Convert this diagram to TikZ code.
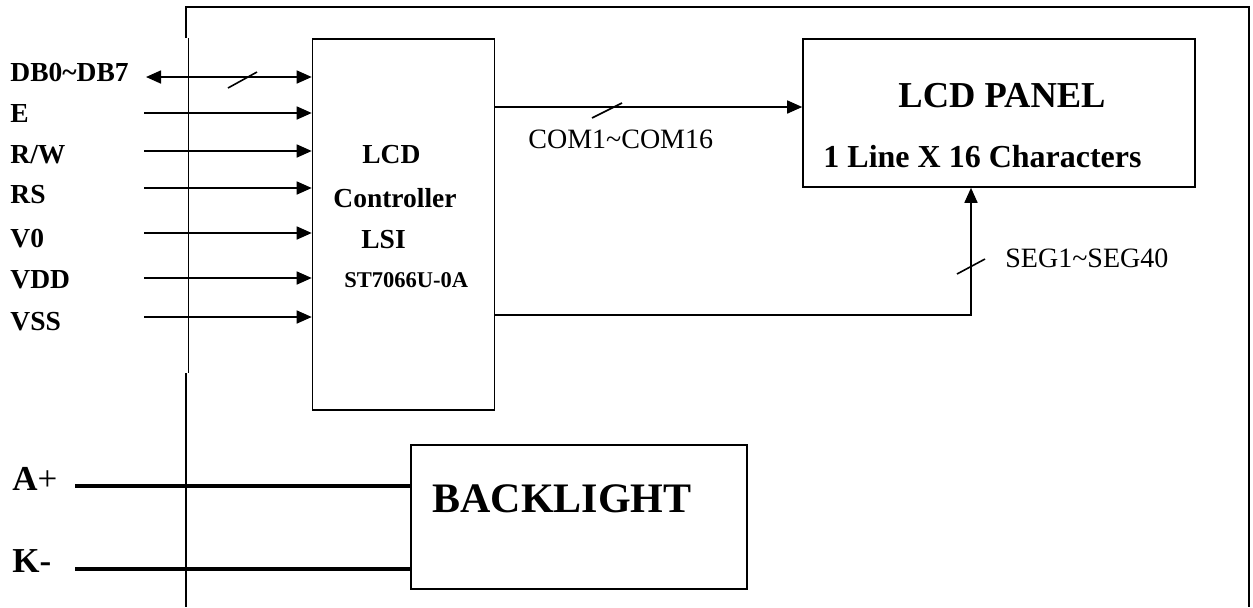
\documentclass[tikz,border=0pt]{standalone}
\usepackage{fontspec}
\setmainfont{Liberation Serif}
\usetikzlibrary{arrows.meta,positioning}

\begin{document}
\begin{tikzpicture}[x=0.5pt,y=-0.5pt,
  blk/.style={draw,line width=0.8pt,inner sep=0pt},
  sig/.style={line width=0.8pt,-{Triangle[length=7.5pt,width=6.5pt]}},
  dbl/.style={line width=0.8pt,{Triangle[length=7.5pt,width=6.5pt]}-{Triangle[length=7.5pt,width=6.5pt]}},
  pwr/.style={line width=2pt},
  frm/.style={line width=0.8pt},
  pin/.style={anchor=base west,inner sep=0pt,font=\fontsize{13.75}{16}\selectfont\bfseries},
  chip/.style={anchor=base west,inner sep=0pt,font=\fontsize{13.75}{16}\selectfont\bfseries},
  bus/.style={anchor=base west,inner sep=0pt,font=\fontsize{14}{16}\selectfont}
]
\useasboundingbox (0,0) rectangle (1253,607);

%--- outer frame ---
\draw[frm] (186,38) -- (186,7) -- (1249,7) -- (1249,607);
\draw[line width=0.4pt] (188,38) -- (188,373);
\draw[frm] (186,373) -- (186,607);

%--- blocks ---
\node[blk,minimum width=91pt,minimum height=185.5pt] (ctrl) at (403.5,224.5) {};
\node[blk,minimum width=196pt,minimum height=74pt] (lcd) at (999,113) {};
\node[blk,minimum width=168pt,minimum height=72pt] (bl) at (579,517) {};

% controller text
\node[chip] (c1) at (362,163) {LCD};
\node[chip] (c2) at (333,207) {Controller};
\node[chip] (c3) at (361,248) {LSI};
\node[chip,font=\fontsize{11.25}{13}\selectfont\bfseries] (c4) at (344,287) {ST7066U-0A};

% panel text
\node[chip,font=\fontsize{18.25}{20}\selectfont\bfseries] (p1) at (898,107) {LCD PANEL};
\node[chip,font=\fontsize{16}{18}\selectfont\bfseries] (p2) at (823,167) {1 Line X 16 Characters};

% backlight text
\node[chip,font=\fontsize{21}{24}\selectfont\bfseries] (b1) at (432,512) {BACKLIGHT};

%--- interface pins ---
\node[pin] (db) at (10,81) {DB0\textasciitilde DB7};
\coordinate (pdb) at (146,77);
\draw[dbl] (pdb) -- (pdb -| ctrl.west);
\draw[frm] (228,88) -- (257,72);

\foreach \by/\ay/\nm/\txt in {122/113/e/E,163/151/rw/{R/W},203/188/rs/RS,
                              247/233/vo/V0,288/278/vdd/VDD,330/317/vss/VSS}{
  \node[pin] (\nm) at (10,\by) {\txt};
  \coordinate (p\nm) at (144,\ay);
  \draw[sig] (p\nm) -- (p\nm -| ctrl.west);
}

%--- common / segment buses ---
\coordinate (comy) at (0,107);
\draw[sig] (ctrl.east |- comy) -- (lcd.west |- comy);
\draw[frm] (592,118) -- (622,103);
\node[bus] (com) at (528,148) {COM1\textasciitilde COM16};

\coordinate (segc) at (971,315);
\draw[sig] (ctrl.east |- segc) -- (segc) -- (segc |- lcd.south);
\draw[frm] (957,274) -- (985,259);
\node[bus] (seg) at (1005,267) {SEG1\textasciitilde SEG40};

%--- backlight supply ---
\node[pin,font=\fontsize{17.5}{20}\selectfont\bfseries] (ap) at (12,490) {A{\mdseries+}};
\node[pin,font=\fontsize{17.5}{20}\selectfont\bfseries] (km) at (12,572) {K-};
\coordinate (pa) at (75,486);
\coordinate (pk) at (75,569);
\draw[pwr] (pa) -- (pa -| bl.west);
\draw[pwr] (pk) -- (pk -| bl.west);
\end{tikzpicture}
\end{document}
